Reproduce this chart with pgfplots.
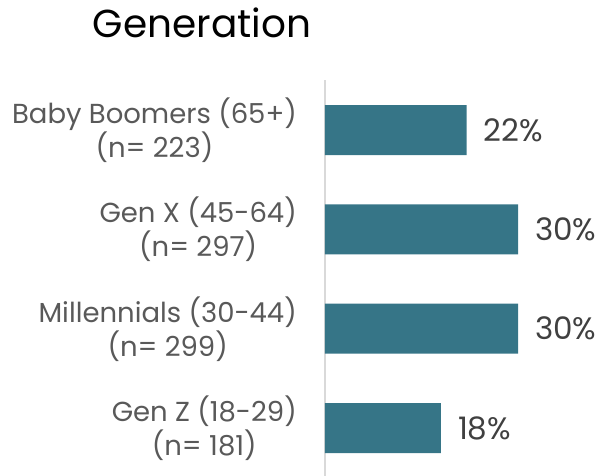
\documentclass[border=0pt]{standalone}
\usepackage{pgfplots}
\pgfplotsset{compat=1.18}
\usepackage{fontspec}
\setmainfont{Poppins}
\definecolor{barc}{HTML}{367587}
\definecolor{labc}{HTML}{595959}
\definecolor{valc}{HTML}{404040}
\definecolor{axc}{HTML}{D9D9D9}
\begin{document}
\begin{tikzpicture}
\useasboundingbox (0,0) rectangle (603pt,476pt);
\node[anchor=base, font=\fontsize{39}{42}\selectfont, text=black] at (202pt,438pt) {Generation};
\begin{axis}[
  at={(325pt,0pt)}, anchor=south west,
  scale only axis, width=278pt, height=395.5pt,
  xmin=0, xmax=43.2, ymin=-0.483, ymax=3.5,
  xbar, bar width=50pt,
  hide x axis,
  axis y line=left,
  y axis line style={-, draw=axc, line width=1.5pt},
  ytick={0,1,2,3},
  yticklabels={{Gen Z (18-29)\\(n= 181)},{Millennials (30-44)\\(n= 299)},{Gen X (45-64)\\(n= 297)},{Baby Boomers (65+)\\(n= 223)}},
  major tick length=0pt,
  yticklabel style={align=center, anchor=east, inner sep=0pt, xshift=-28pt, text=labc, font=\fontsize{27.5}{34}\selectfont},
  /pgf/number format/assume math mode=true,
  nodes near coords={\pgfmathprintnumber{\pgfplotspointmeta}\%},
  nodes near coords style={anchor=west, inner sep=0pt, xshift=17pt, text=valc, font=\fontsize{31}{34}\selectfont},
  point meta=x,
  clip=false,
]
\addplot[fill=barc, draw=none] coordinates {(18,0) (30,1) (30,2) (22,3)};
\end{axis}
\end{tikzpicture}
\end{document}
